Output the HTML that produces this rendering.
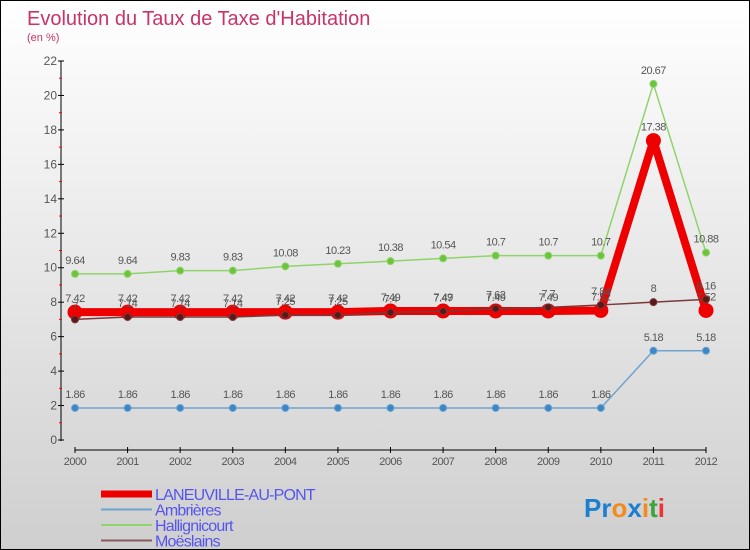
<!DOCTYPE html>
<html><head><meta charset="utf-8"><style>
html,body{margin:0;padding:0;}
#wrap{position:relative;width:748px;height:548px;border:1px solid #000;background:linear-gradient(#ffffff,#cfcfcf);font-family:"Liberation Sans",sans-serif;overflow:hidden;}
svg text{font-family:"Liberation Sans",sans-serif;}
</style></head><body>
<div id="wrap">
<svg id="chart" width="748" height="548"></svg>
</div>
<script>
const years = [2000,2001,2002,2003,2004,2005,2006,2007,2008,2009,2010,2011,2012];
const laneuville = [7.42,7.42,7.42,7.42,7.42,7.42,7.49,7.49,7.49,7.49,7.52,17.38,7.52];
const ambrieres = [1.86,1.86,1.86,1.86,1.86,1.86,1.86,1.86,1.86,1.86,1.86,5.18,5.18];
const hallignicourt = [9.64,9.64,9.83,9.83,10.08,10.23,10.38,10.54,10.7,10.7,10.7,20.67,10.88];
const moeslains = [7,7.14,7.14,7.14,7.25,7.25,7.4,7.47,7.62,7.7,7.84,8,8.16];
const yTicks = [0,2,4,6,8,10,12,14,16,18,20,22];

const NS="http://www.w3.org/2000/svg";
const svg=document.getElementById('chart');
const x0=74,x1=705,yb=439,yt=60;
function xs(i){return x0+(x1-x0)*i/(years.length-1);}
function ys(v){return yb-(yb-yt)*v/22;}
function el(tag,attrs,parent){const e=document.createElementNS(NS,tag);for(const k in attrs)e.setAttribute(k,attrs[k]);(parent||svg).appendChild(e);return e;}

let t=el('text',{x:26,y:24,'font-size':20,fill:'#c8336a'});t.textContent="Evolution du Taux de Taxe d'Habitation";


t=el('text',{x:26,y:40,'font-size':11,fill:'#c8336a'});t.textContent="(en %)";



let a=el('line',{x1:x0-14,y1:yt,x2:x0-14,y2:yb+1,stroke:'#000','stroke-width':1});


a=el('line',{x1:x0,y1:yb+10,x2:x1,y2:yb+10,stroke:'#000','stroke-width':1});


yTicks.forEach((v,i)=>{
  el('line',{x1:x0-17,y1:ys(v),x2:x0-11,y2:ys(v),stroke:'#000'});
  if(i<yTicks.length-1) el('line',{x1:x0-16,y1:ys(v+1),x2:x0-13,y2:ys(v+1),stroke:'#f00'});
  const tt=el('text',{x:x0-18,y:ys(v)+4,'font-size':12,fill:'#555','text-anchor':'end'});tt.textContent=v;
  
  
});
years.forEach((y,i)=>{
  el('line',{x1:xs(i),y1:yb+7,x2:xs(i),y2:yb+13,stroke:'#000'});
  const tt=el('text',{x:xs(i),y:yb+25,'font-size':11,fill:'#555','text-anchor':'middle','letter-spacing':'-0.5'});tt.textContent=y;
  
  
});

function series(data,color,width,r,name,mfill){
  const g=el('g',{});
  
  
  const pts=data.map((v,i)=>xs(i)+','+ys(v)).join(' ');
  el('polyline',{points:pts,fill:'none',stroke:color,'stroke-width':width,'stroke-linejoin':'round'},g);
  data.forEach((v,i)=>{
    const c=el('circle',{cx:xs(i),cy:ys(v),r:r,fill:mfill,stroke:color,'stroke-width':1},g);
    
    
    const tt=el('text',{x:xs(i),y:ys(v)-10,'font-size':11,fill:'#555','text-anchor':'middle','letter-spacing':'-0.5'},g);
    tt.textContent=v;
    
    
  });
}
series(ambrieres,'#6fa3d0',1.5,3.5,'ambrieres','#3a87c8');
series(hallignicourt,'#8fd46a',1.5,3.5,'hallignicourt','#6cc43e');
series(laneuville,'#ee0000',8,7,'laneuville','#ee0000');
series(moeslains,'#7a3838',1.5,3.5,'moeslains','#5a1818');

const leg=[['LANEUVILLE-AU-PONT','#ee0000',7],['Ambrières','#6fa3d0',2],['Hallignicourt','#8fd46a',2],['Moëslains','#8b5a5a',2]];
leg.forEach((l,i)=>{
  const y=493+i*15.5;
  const g=el('g',{});
  
  
  el('line',{x1:100,y1:y,x2:151,y2:y,stroke:l[1],'stroke-width':l[2]},g);
  const tt=el('text',{x:154,y:y+6,'font-size':16,fill:'#5555ee','letter-spacing':'-0.8'},g);tt.textContent=l[0];
});
const lg=el('text',{x:583,y:516,'font-size':26,'font-weight':'bold'});


[['Pr','#1a7fd0'],['o','#f28a1e'],['x','#1a7fd0'],['i','#f28a1e'],['t','#3aa53a'],['i','#e33']].forEach(p=>{const s=el('tspan',{fill:p[1]},lg);s.textContent=p[0];});
</script>
</body></html>
